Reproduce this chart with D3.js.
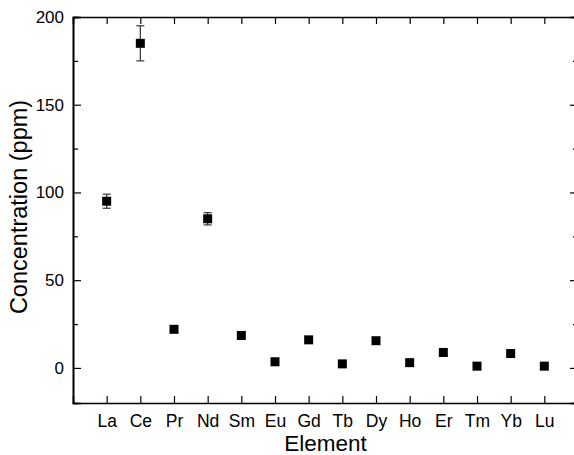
<!DOCTYPE html>
<html>
<head>
<meta charset="utf-8">
<script src="https://cdn.jsdelivr.net/npm/d3@7"></script>
<style>
  html, body { margin: 0; padding: 0; background: #fff; }
  text { font-family: "Liberation Sans", Arial, sans-serif; fill: #000; }
</style>
</head>
<body>
<div id="chart"></div>
<script>
const elements = ['La', 'Ce', 'Pr', 'Nd', 'Sm', 'Eu', 'Gd', 'Tb', 'Dy', 'Ho', 'Er', 'Tm', 'Yb', 'Lu'];
const concentration = [95, 185, 22, 85, 18.5, 3.5, 16, 2.3, 15.5, 3, 8.8, 1, 8.2, 1];
const errors = [4, 10, 0, 3.5, 0, 0, 0, 0, 0, 0, 0, 0, 0, 0];
const yMajorTicks = [0, 50, 100, 150, 200];
const yMinorTicks = [25, 75, 125, 175];

const width = 574, height = 455;
const margin = { top: 17, right: -4, bottom: 52, left: 73 };
const innerW = width - margin.left - margin.right;
const innerH = height - margin.top - margin.bottom;

const x = d3.scaleLinear().domain([0, elements.length + 1]).range([0, innerW]);
const y = d3.scaleLinear().domain([-20, 200]).range([innerH, 0]);

const svg = d3.select('#chart').append('svg')
  .attr('width', width).attr('height', height);

const g = svg.append('g').attr('transform', `translate(${margin.left},${margin.top})`);

const catTicks = elements.map((d, i) => i + 1);

// bottom + top axes, ticks pointing in
const xAxisB = g.append('g').attr('transform', `translate(0,${innerH})`)
  .call(d3.axisBottom(x).tickValues(catTicks).tickSize(-7).tickPadding(12)
    .tickFormat((d, i) => elements[i]));
g.append('g')
  .call(d3.axisTop(x).tickValues(catTicks).tickSize(-7).tickFormat(''));

// left + right axes with minor ticks
const yAxisL = g.append('g')
  .call(d3.axisLeft(y).tickValues(yMajorTicks).tickSize(-8).tickPadding(9));
g.append('g').call(d3.axisLeft(y).tickValues(yMinorTicks).tickSize(-5).tickFormat(''));
g.append('g').attr('transform', `translate(${innerW},0)`)
  .call(d3.axisRight(y).tickValues(yMajorTicks).tickSize(-8).tickFormat(''));
g.append('g').attr('transform', `translate(${innerW},0)`)
  .call(d3.axisRight(y).tickValues(yMinorTicks).tickSize(-5).tickFormat(''));

g.selectAll('.domain').attr('stroke', '#000').attr('stroke-width', 1.6);
g.selectAll('.tick line').attr('stroke', '#000').attr('stroke-width', 1.2);
g.selectAll('.tick text').attr('fill', '#000')
  .style('font-family', '"Liberation Sans", Arial, sans-serif');
xAxisB.selectAll('.tick text').attr('font-size', 17.5).attr('dy', null).attr('y', 24);
yAxisL.selectAll('.tick text').attr('font-size', 17);

// error bars
const errData = elements.map((e, i) => ({ i: i + 1, v: concentration[i], err: errors[i] }))
  .filter(d => d.err > 0);
const eb = g.append('g').attr('stroke', '#333').attr('stroke-width', 1.2);
eb.selectAll('line.stem').data(errData).join('line')
  .attr('class', 'stem')
  .attr('x1', d => x(d.i)).attr('x2', d => x(d.i))
  .attr('y1', d => y(d.v - d.err)).attr('y2', d => y(d.v + d.err));
eb.selectAll('line.capTop').data(errData).join('line')
  .attr('class', 'capTop')
  .attr('x1', d => x(d.i) - 4).attr('x2', d => x(d.i) + 4)
  .attr('y1', d => y(d.v + d.err)).attr('y2', d => y(d.v + d.err));
eb.selectAll('line.capBot').data(errData).join('line')
  .attr('class', 'capBot')
  .attr('x1', d => x(d.i) - 4).attr('x2', d => x(d.i) + 4)
  .attr('y1', d => y(d.v - d.err)).attr('y2', d => y(d.v - d.err));

// markers
const s = 9;
g.selectAll('rect.pt').data(concentration).join('rect')
  .attr('class', 'pt')
  .attr('x', (d, i) => x(i + 1) - s / 2)
  .attr('y', d => y(d) - s / 2)
  .attr('width', s).attr('height', s)
  .attr('fill', '#000');

// axis titles
svg.append('text')
  .attr('x', margin.left + x(7.5)).attr('y', 451)
  .attr('text-anchor', 'middle').attr('font-size', 22.5)
  .text('Element');
svg.append('text')
  .attr('transform', `translate(27,207) rotate(-90)`)
  .attr('text-anchor', 'middle').attr('font-size', 23.5)
  .text('Concentration (ppm)');
</script>
</body>
</html>
